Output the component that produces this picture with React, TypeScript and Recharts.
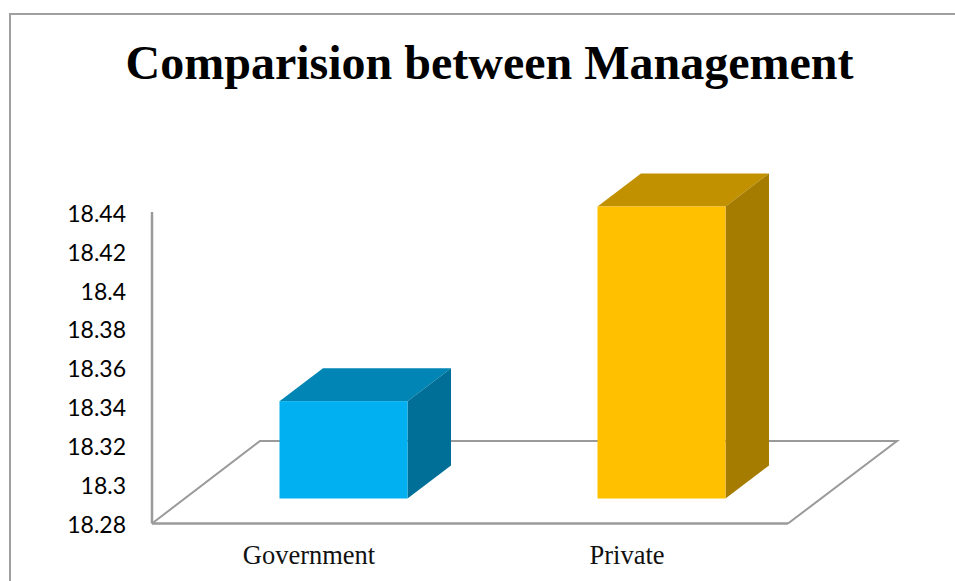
import React from "react";
import { BarChart, Bar, XAxis, YAxis, usePlotArea } from "recharts";

const categories = ["Government", "Private"];
const scores = [18.33, 18.43];
const yTicks = [18.28, 18.3, 18.32, 18.34, 18.36, 18.38, 18.4, 18.42, 18.44];
const frontColors = ["#00B0F0", "#FFC000"];
const topColors = ["#0085B4", "#C19100"];
const sideColors = ["#006F97", "#A67C00"];

const rows = categories.map((name, i) => ({ name, score: scores[i], index: i }));

const AXIS_GREY = "#9A9A9A";

// Oblique projection used for the floor and the bar depth.
const FLOOR_DX = 108;
const FLOOR_DY = 82.5;
const BAR_SHIFT_X = 32.5;
const BAR_SHIFT_Y = 25;
const BAR_DEPTH_X = 43.5;
const BAR_DEPTH_Y = 33;

function Floor() {
  const plot = usePlotArea();
  if (!plot) return null;
  const left = plot.x;
  const right = plot.x + plot.width;
  const bottom = plot.y + plot.height;
  const back = bottom - FLOOR_DY;
  const pts = [
    [left, bottom],
    [left + FLOOR_DX, back],
    [right + FLOOR_DX + 1, back],
    [right, bottom],
  ]
    .map((p) => p.join(","))
    .join(" ");
  return <polyline points={pts} fill="none" stroke={AXIS_GREY} strokeWidth={2} />;
}

function Box(props: any) {
  const { x, y, width, height, payload } = props;
  const i = payload.index;
  const l = x + BAR_SHIFT_X;
  const r = l + width;
  const t = y - BAR_SHIFT_Y;
  const b = t + height;
  const dx = BAR_DEPTH_X;
  const dy = BAR_DEPTH_Y;
  return (
    <g>
      <polygon points={`${l},${t} ${l + dx},${t - dy} ${r + dx},${t - dy} ${r},${t}`} fill={topColors[i]} />
      <polygon points={`${r},${t} ${r + dx},${t - dy} ${r + dx},${b - dy} ${r},${b}`} fill={sideColors[i]} />
      <rect x={l} y={t} width={width} height={height} fill={frontColors[i]} />
    </g>
  );
}

export default function App() {
  return (
    <div style={{ position: "absolute", left: 0, top: 0, width: 955, height: 581, overflow: "hidden", background: "#fff" }}>
      <div
        style={{
          position: "absolute",
          left: 9,
          top: 13,
          width: 960,
          height: 600,
          borderLeft: "2px solid #A0A0A0",
          borderTop: "2px solid #A0A0A0",
        }}
      />
      <div
        style={{
          position: "absolute",
          left: 0,
          width: 979,
          top: 33,
          textAlign: "center",
          fontFamily: "'Liberation Serif'",
          fontWeight: 700,
          fontSize: 48,
          lineHeight: "60px",
          color: "#000",
          whiteSpace: "nowrap",
        }}
      >
        Comparision between Management
      </div>
      <div style={{ position: "absolute", left: 0, top: 0 }}>
        <BarChart
          width={955}
          height={581}
          data={rows}
          margin={{ top: 212, right: 167, bottom: 0, left: 0 }}
          barSize={128}
        >
          <Floor />
          <XAxis
            dataKey="name"
            height={57.5}
            tickLine={false}
            axisLine={{ stroke: AXIS_GREY, strokeWidth: 2.5 }}
            tick={{ fontFamily: "'Liberation Serif'", fontSize: 26.5, fill: "#111", dx: -2 }}
            tickMargin={16}
            interval={0}
          />
          <YAxis
            width={152}
            domain={[18.28, 18.44]}
            ticks={yTicks}
            interval={0}
            tickLine={false}
            axisLine={{ stroke: AXIS_GREY, strokeWidth: 2.5 }}
            tick={{ fontFamily: "Lato", fontSize: 23, fill: "#000", dy: 1.5 }}
            tickMargin={20}
          />
          <Bar dataKey="score" isAnimationActive={false} shape={<Box />} />
        </BarChart>
      </div>
    </div>
  );
}
